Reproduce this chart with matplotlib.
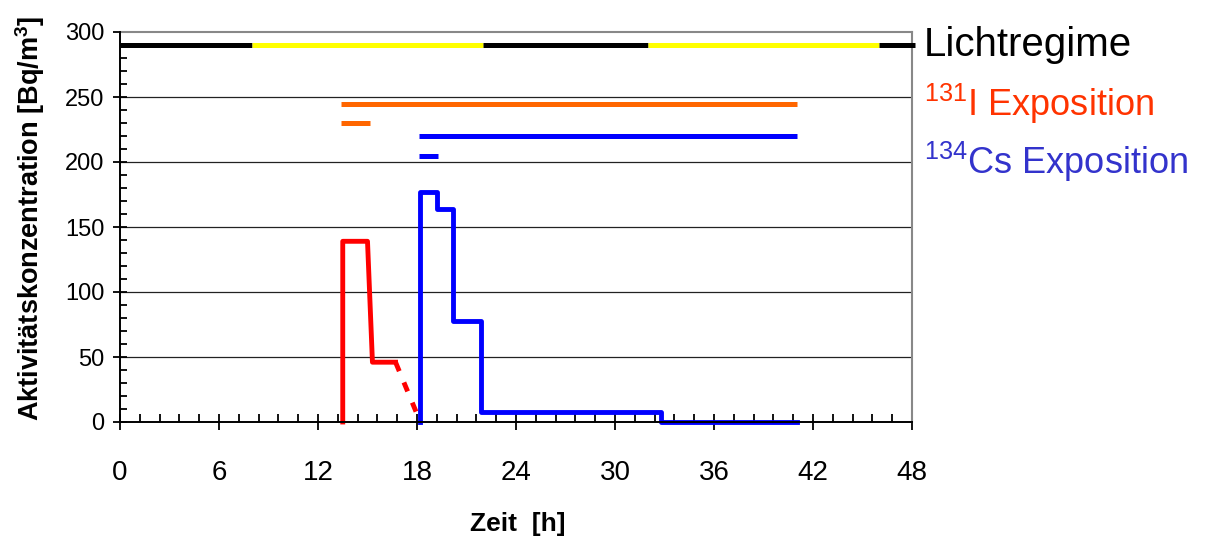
import matplotlib.pyplot as plt
from matplotlib.ticker import MultipleLocator

plt.rcParams['font.family'] = ['Liberation Sans', 'DejaVu Sans']
plt.rcParams['mathtext.fontset'] = 'custom'
plt.rcParams['mathtext.rm'] = 'Liberation Sans'
plt.rcParams['mathtext.it'] = 'Liberation Sans:italic'
plt.rcParams['mathtext.bf'] = 'Liberation Sans:bold'

# light regime: black = dark, yellow = light
light_edges = [0, 8, 22, 32, 46, 48.2]
light_colors = ["black", "#FFFF00", "black", "#FFFF00", "black"]
light_level = 290

# exposure periods (start, end, level)
i131_exposure = [(13.4, 41.0, 245), (13.4, 15.15, 230)]
cs134_exposure = [(18.1, 41.0, 220), (18.1, 19.3, 205)]

# activity concentration curves
i131_t = [13.5, 13.5, 15.0, 15.3, 16.7]
i131_v = [0, 139, 139, 46, 46]
i131_tail_t = [16.7, 18.2]
i131_tail_v = [46, 0]

cs134_t = [18.2, 18.2, 19.2, 19.2, 20.2, 20.2, 21.9, 21.9, 32.8, 32.8, 41.0]
cs134_v = [0, 177, 177, 164, 164, 78, 78, 8, 8, 0, 0]

fig = plt.figure(figsize=(12.11, 5.43), dpi=100)
ax = fig.add_axes([120 / 1211, 1 - 422 / 543, 792 / 1211, 390 / 543])

for y in range(50, 300, 50):
    ax.axhline(y, color="#222222", lw=0.9, zorder=1)

for i, c in enumerate(light_colors):
    ax.plot(light_edges[i:i + 2], [light_level] * 2, color=c, lw=3.6,
            solid_capstyle="butt", clip_on=False, zorder=3)

for x0, x1, y in i131_exposure:
    ax.plot([x0, x1], [y, y], color="#FF6600", lw=3.6, solid_capstyle="butt", zorder=3)
for x0, x1, y in cs134_exposure:
    ax.plot([x0, x1], [y, y], color="#0000FF", lw=3.6, solid_capstyle="butt", zorder=3)

ax.plot(i131_t, i131_v, color="#FF0000", lw=3.5, clip_on=False, zorder=4)
ax.plot(i131_tail_t, i131_tail_v, color="#FF0000", lw=3.5, ls=(0, (2, 2.5)),
        clip_on=False, zorder=4)
ax.plot(cs134_t, cs134_v, color="#0000FF", lw=3.5, clip_on=False, zorder=5)

ax.set_xlim(0, 48)
ax.set_ylim(0, 300)
ax.xaxis.set_major_locator(MultipleLocator(6))
ax.xaxis.set_minor_locator(MultipleLocator(1.2))
ax.yaxis.set_major_locator(MultipleLocator(50))
ax.yaxis.set_minor_locator(MultipleLocator(10))
ax.tick_params(axis="x", which="major", direction="inout", length=12, width=1.3,
               labelsize=20, pad=21)
ax.tick_params(axis="x", which="minor", direction="in", length=6, width=1.3)
ax.tick_params(axis="y", which="major", direction="inout", length=10, width=1.3,
               labelsize=17, pad=6)
ax.tick_params(axis="y", which="minor", direction="in", length=5, width=1.3)

for s in ["left", "bottom"]:
    ax.spines[s].set_linewidth(1.4)
    ax.spines[s].set_zorder(6)
for s in ["right", "top"]:
    ax.spines[s].set_color("#888888")
    ax.spines[s].set_linewidth(1.5)

fig.text(518 / 1211, 1 - 524 / 543, "Zeit  [h]", ha="center", va="center",
         fontsize=19, fontweight="bold")
fig.text(30 / 1211, 1 - 218 / 543, "Aktivitätskonzentration [Bq/m$^\\mathbf{3}$]",
         rotation=90, ha="center", va="center", fontsize=19.5, fontweight="bold")

ax.text(48.7, 290, "Lichtregime", fontsize=29, color="black", va="center",
        ha="left", clip_on=False)
ax.text(48.7, 245, "$^{131}$I Exposition", fontsize=26, color="#FF3300",
        va="center", ha="left", clip_on=False)
ax.text(48.7, 200, "$^{134}$Cs Exposition", fontsize=26, color="#3333CC",
        va="center", ha="left", clip_on=False)

fig.savefig("out.png", dpi=100)
